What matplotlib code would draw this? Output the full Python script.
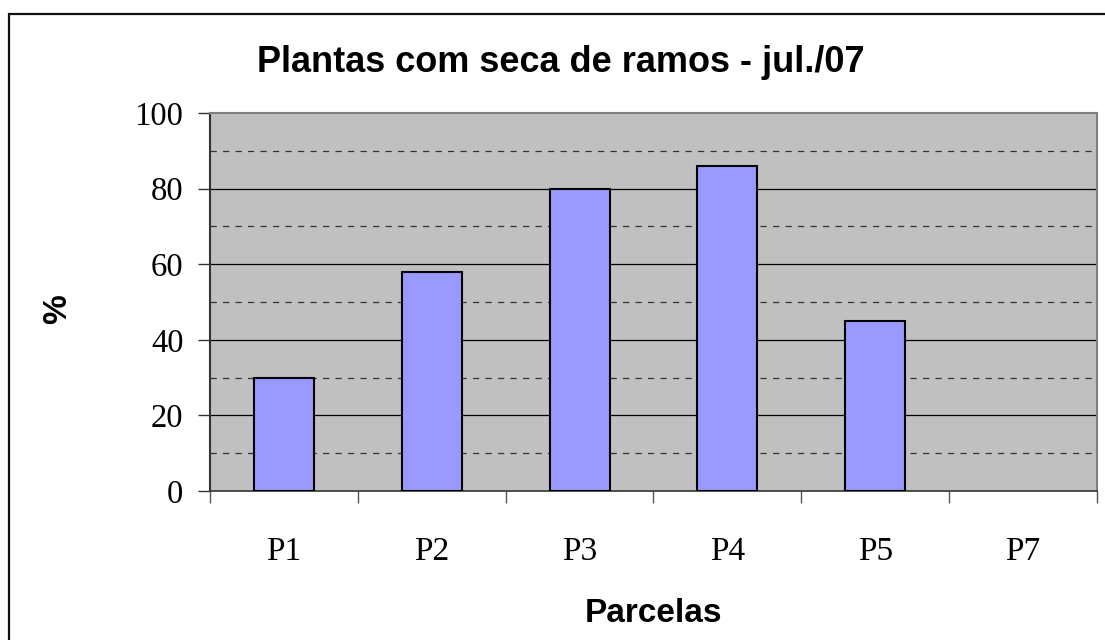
import matplotlib
matplotlib.use("Agg")
import matplotlib.pyplot as plt
from matplotlib.patches import Rectangle
import numpy as np

categories = ["P1", "P2", "P3", "P4", "P5", "P7"]
values = [30, 58, 80, 86, 45, 0]
title = "Plantas com seca de ramos - jul./07"
xlabel = "Parcelas"
ylabel = "%"

W, H = 1105, 640
fig = plt.figure(figsize=(W / 100, H / 100), dpi=100)
L, R, T, B = 210, 1097, 113, 491
ax = fig.add_axes([L / W, 1 - B / H, (R - L) / W, (B - T) / H])
ax.set_facecolor("#C0C0C0")

x = np.arange(len(categories))
lws = [1.5 if v > 0 else 0 for v in values]
ax.bar(x, values, width=0.406, color="#9999FF", edgecolor="black", linewidth=lws, zorder=3)

ax.set_xlim(-0.5, len(categories) - 0.5)
ax.set_ylim(0, 100)

for v in [20, 40, 60, 80]:
    ax.axhline(v, color="black", linewidth=0.9, zorder=1)
for v in [10, 30, 50, 70, 90]:
    ax.axhline(v, color="#333333", linewidth=0.9, linestyle=(0, (5, 5)), zorder=1)

serif = ["Liberation Serif", "DejaVu Serif"]
sans = ["Liberation Sans", "DejaVu Sans"]

ax.set_yticks(np.arange(0, 101, 20))
ax.set_yticklabels([str(v) for v in range(0, 101, 20)], fontfamily=serif, fontsize=23.5)
ax.tick_params(axis="y", direction="out", length=8.6, width=1, pad=10.5, color="#333333")

ax.set_xticks(np.arange(-0.5, len(categories), 1.0))
ax.set_xticklabels([])
ax.tick_params(axis="x", which="major", direction="out", length=8.5, width=1, color="#555555")
ax.set_xticks(x, minor=True)
ax.set_xticklabels(categories, minor=True, fontfamily=serif, fontsize=24)
ax.tick_params(axis="x", which="minor", length=0, pad=33)

ax.spines["left"].set_color("#333333")
ax.spines["left"].set_linewidth(1.5)
ax.spines["bottom"].set_color("#333333")
ax.spines["bottom"].set_linewidth(1.2)
ax.spines["top"].set_color("#808080")
ax.spines["top"].set_linewidth(1.5)
ax.spines["right"].set_color("#808080")
ax.spines["right"].set_linewidth(1.5)

fig.text(257 / W, 1 - 72 / H, title, ha="left", va="baseline",
         fontfamily=sans, fontweight="bold", fontsize=26)
fig.text(((L + R) / 2) / W, 1 - 622 / H, xlabel, ha="center", va="baseline",
         fontfamily=sans, fontweight="bold", fontsize=24)
fig.text(58 / W, 1 - 309 / H, ylabel, ha="center", va="center", rotation=90,
         fontfamily=sans, fontweight="bold", fontsize=24)

fig.patches.append(Rectangle((9 / W, -0.1), 1.2, 1 - 14 / H + 0.1,
                             transform=fig.transFigure, fill=False,
                             edgecolor="#111111", linewidth=1.6))

fig.savefig("out.png", dpi=100)
